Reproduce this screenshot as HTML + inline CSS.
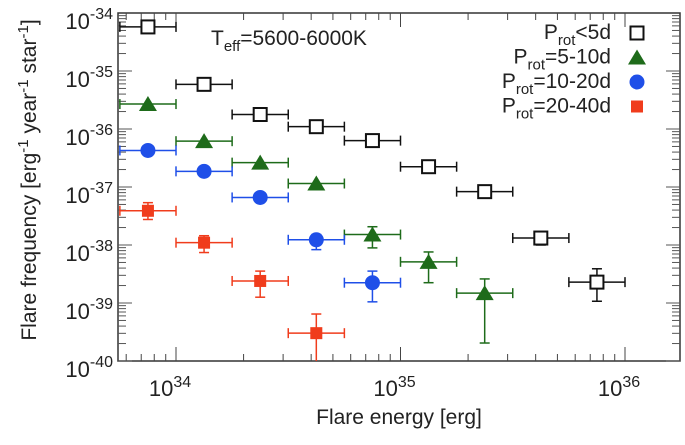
<!DOCTYPE html>
<html><head><meta charset="utf-8"><style>
body{margin:0;background:#fff;}
svg text{font-family:"Liberation Sans",Arial,sans-serif;fill:#222;}
</style></head><body>
<svg id="c" width="685" height="440" xmlns="http://www.w3.org/2000/svg">
<rect x="118" y="13" width="562" height="348" fill="none" stroke="#333" stroke-width="1.5"/>
<g id="ticks"></g>
<g id="marks"></g>
<text x="211" y="45" font-size="21">T<tspan font-size="15" dy="6">eff</tspan><tspan dy="-6">=5600-6000K</tspan></text>
<g id="legend"></g>
<text x="399" y="424" font-size="21" text-anchor="middle">Flare energy [erg]</text>
<text transform="translate(36,180) rotate(-90)" font-size="21" text-anchor="middle">Flare frequency [erg<tspan font-size="15" dy="-8">-1</tspan><tspan dy="8"> year</tspan><tspan font-size="15" dy="-8">-1</tspan><tspan dy="8"> star</tspan><tspan font-size="15" dy="-8">-1</tspan><tspan dy="8">]</tspan></text>
</svg>
<script>
const xCenters=[33.875,34.125,34.375,34.625,34.875,35.125,35.375,35.625,35.875];
const halfBin=0.125;
const blackY=[-34.24,-35.23,-35.75,-35.96,-36.20,-36.65,-37.08,-37.88,-38.64];
const blackErr=[null,null,null,null,null,null,null,[-37.79,-38.0],[-38.41,-38.97]];
const greenY=[-35.57,-36.21,-36.58,-36.94,-37.82,-38.29,-38.83];
const greenErr=[null,null,null,null,[-37.685,-38.05],[-38.12,-38.65],[-38.585,-39.69]];
const blueY=[-36.37,-36.73,-37.18,-37.91,-38.65];
const blueErr=[null,null,null,[-37.82,-38.08],[-38.45,-38.98]];
const redY=[-37.41,-37.96,-38.62,-39.52];
const redErr=[[-37.27,-37.56],[-37.84,-38.13],[-38.45,-38.90],[-39.19,-40.6]];
const xTickExp=[34,35,36];
const yTickExp=[-34,-35,-36,-37,-38,-39,-40];
const legendLabels=[["<5d"],["=5-10d"],["=10-20d"],["=20-40d"]];

const NS="http://www.w3.org/2000/svg";
const L=118,R=680,T=13,B=361;
const xs=v=>176+(v-34)*224.5;
const ys=v=>T+(-34-v)*(B-T)/6;
function mk(t,a,p){const e=document.createElementNS(NS,t);for(const k in a)e.setAttribute(k,a[k]);p.appendChild(e);return e;}
const tk=document.getElementById('ticks');
for(let d=33;d<=36;d++){for(let m=1;m<10;m++){const v=d+Math.log10(m);const x=xs(v);if(x<=L+1||x>=R-1)continue;const len=m==1?14:7;
const a=mk('line',{x1:x,x2:x,y1:B,y2:B-len,stroke:'#444','stroke-width':1},tk);
const b=mk('line',{x1:x,x2:x,y1:T,y2:T+len,stroke:'#444','stroke-width':1},tk);}}
xTickExp.forEach(e=>{const t=mk('text',{x:xs(e)-6,y:396,'font-size':22,'text-anchor':'middle'},tk);t.innerHTML='10<tspan font-size="16" dy="-9">'+e+'</tspan>';});
for(let d=-40;d<-34;d++){for(let m=1;m<10;m++){const v=d+Math.log10(m);const y=ys(v);const len=m==1?14:8;
[[L,L+len],[R,R-len]].forEach(p=>{const l=mk('line',{x1:p[0],x2:p[1],y1:y,y2:y,stroke:'#555','stroke-width':1},tk);});}}
yTickExp.forEach(e=>{const t=mk('text',{x:113,y:ys(e)+16,'font-size':22,'text-anchor':'end'},tk);t.innerHTML='10<tspan font-size="16" dy="-10">'+e+'</tspan>';});

const mg=document.getElementById('marks');
function marker(kind,x,y,col,g){let e;
if(kind=='sq')e=mk('rect',{x:x-6.5,y:y-6.5,width:13,height:13,fill:'#fff',stroke:'#111','stroke-width':2},g);
else if(kind=='tri')e=mk('polygon',{points:`${x},${y-8} ${x-9},${y+7} ${x+9},${y+7}`,fill:col},g);
else if(kind=='circ')e=mk('circle',{cx:x,cy:y,r:7.5,fill:col},g);
else e=mk('rect',{x:x-6,y:y-6,width:12,height:12,fill:col},g);return e;}
function series(name,vals,errs,col,kind){const g=mk('g',{},mg);
vals.forEach((v,i)=>{const cx=xs(xCenters[i]),cy=ys(v);const x1=xs(xCenters[i]-halfBin),x2=xs(xCenters[i]+halfBin);
const h=mk('line',{x1:Math.max(x1,L),x2:x2,y1:cy,y2:cy,stroke:col,'stroke-width':1.5},g);
[x1,x2].forEach(xx=>{if(xx>L+1){const c=mk('line',{x1:xx,x2:xx,y1:cy-5,y2:cy+5,stroke:col,'stroke-width':1.5},g);}});
const er=errs[i];if(er){const ya=ys(er[0]),yb=Math.min(ys(er[1]),B);const l=mk('line',{x1:cx,x2:cx,y1:ya,y2:yb,stroke:col,'stroke-width':1.5},g);
[ya,yb].forEach(yy=>{if(yy<B){const c=mk('line',{x1:cx-5,x2:cx+5,y1:yy,y2:yy,stroke:col,'stroke-width':1.5},g);}});}
const m=marker(kind,cx,cy,col,g);});}
series('prot-lt5d',blackY,blackErr,'#111','sq');
series('prot-5-10d',greenY,greenErr,'#1e6b1a','tri');
series('prot-10-20d',blueY,blueErr,'#1f4fe8','circ');
series('prot-20-40d',redY,redErr,'#f03c1c','rsq');

const lg=document.getElementById('legend');
const lk=[['sq','#111'],['tri','#1e6b1a'],['circ','#1f4fe8'],['rsq','#f03c1c']];
legendLabels.forEach((lab,i)=>{const y=33+i*24.5;const g=mk('g',{},lg);
const t=mk('text',{x:611,y:y+6,'font-size':21,'text-anchor':'end'},g);t.innerHTML='P<tspan font-size="15" dy="6">rot</tspan><tspan dy="-6">'+lab[0].replace('<','&lt;')+'</tspan>';
marker(lk[i][0],637,y,lk[i][1],g);});
</script>
</body></html>
